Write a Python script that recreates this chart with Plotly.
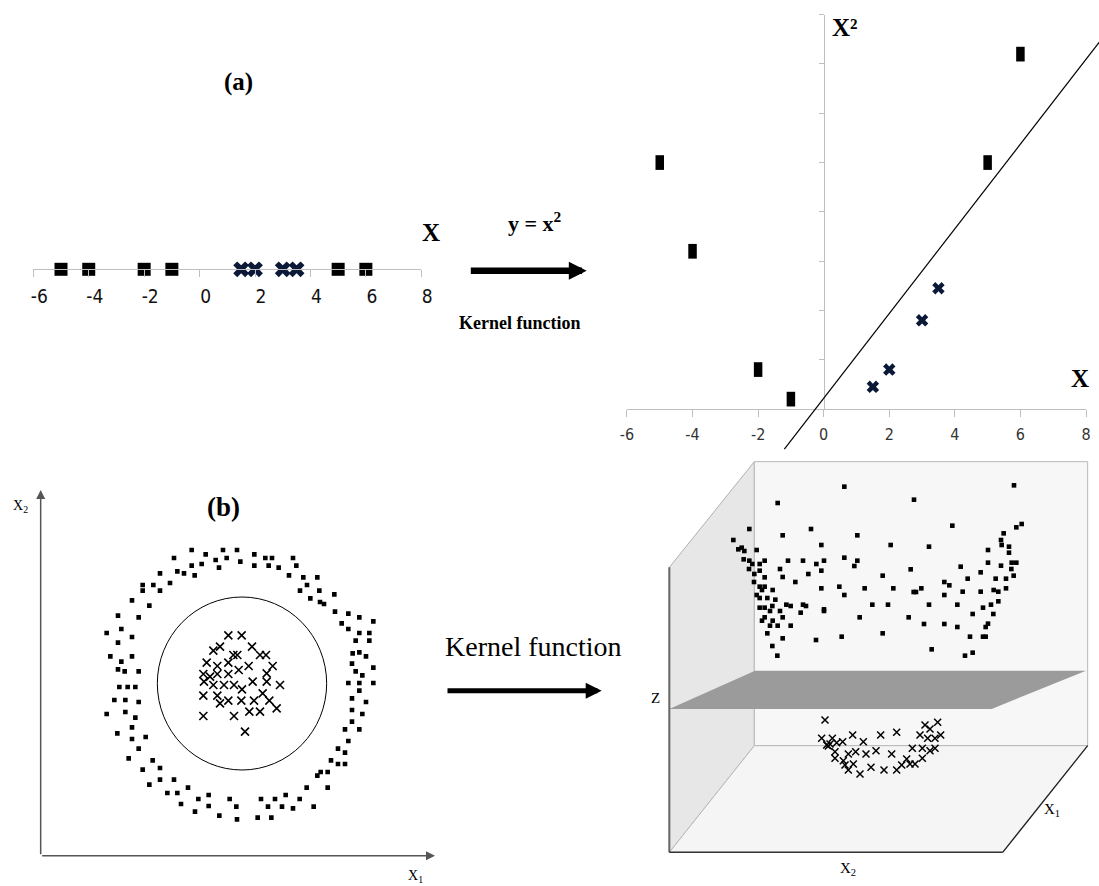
import plotly.graph_objects as go

W, H = 1099, 886
SERIF = "'Liberation Serif', 'Times New Roman', serif"
NARROW = "'Liberation Sans Narrow', 'Arial Narrow', 'DejaVu Sans Condensed', 'Liberation Sans', sans-serif"

# ---------------- data ----------------
# (a) one-dimensional input
a_square_x = [-5, -4, -2, -1, 5, 6]
a_cross_x = [1.5, 2, 3, 3.5]
a_ticks = [-6, -4, -2, 0, 2, 4, 6, 8]
a_ticktext = ["-6", "-4", "-2", "0", "2", "4", "6", "8"]

# (a) after mapping y = x^2
m_square_x = [-5, -4, -2, -1, 5, 6]
m_square_y = [25, 16, 4, 1, 25, 36]
m_cross_x = [1.5, 2, 3, 3.5]
m_cross_y = [2.25, 4, 9, 12.25]
m_xticks = [-6, -4, -2, 0, 2, 4, 6, 8]
m_xticktext = ["-6", "-4", "-2", "0", "2", "4", "6", "8"]
m_yticks = [5, 10, 15, 20, 25, 30, 35, 40]
sep_x = [-1.2, 8.45]
sep_y = [-4.06, 37.4]

# (b) two-dimensional input: outer ring (squares) and inner core (crosses)
ring_x = [-125, -83, -31, 11, 63, 96, 116, 179,
          -178, -125, -95, -53, -20, 21, -43, 63, 106, 136, 189,
          -220, -168, -148, -116, 167, 210, 252,
          -272, -240, -190, -272, -220, 221, 200, 231, 258, 260, 272, 303,
          -304, -252, 305, 345, 378, 420,
          -346, -284, 325, 345, 378, 408,
          -380, -336, -304, -346, 367, 408,
          -369, -336, -304, 358, 378, 398,
          -346, -326, -284, 356, 367, 387, 420,
          -342, -317, -294, 345, 378, 420, 378,
          -357, -324, -284, 356, 398,
          -380, -324, -294, 356, 387,
          -304, -348, -304, -263, 335, 378, 356,
          -284, -314, 345, 314, 335,
          -272, -242, -220, 293, 314, 335,
          -252, -220, -178, 252, 262, 283,
          -198, -168, -136, 220, 283,
          -157, -105, -74, -11, 83, 125, 157, 199,
          -115, -74, 9, 104, 146, 179, 241,
          -42, 11, 73, 114]
ring_y = [400, 387, 400, 400, 387, 376, 376, 376,
          376, 353, 358, 370, 376, 365, 347, 353, 353, 347, 353,
          330, 336, 330, 324, 324, 318, 318,
          295, 295, 301, 278, 278, 295, 278, 255, 278, 244, 238, 267,
          249, 233, 215, 209, 198, 186,
          203, 198, 180, 163, 151, 151,
          151, 163, 139, 122, 128, 128,
          81, 65, 81, 90, 93, 81,
          42, 36, 36, 59, 36, 24, 47,
          -11, -11, -11, 1, 1, 1, -22,
          -50, -50, -56, -45, -56,
          -92, -86, -103, -80, -92,
          -132, -150, -167, -161, -138, -138, -115,
          -196, -225, -173, -196, -208,
          -259, -231, -254, -231, -242, -242,
          -304, -289, -289, -277, -266, -266,
          -329, -329, -313, -313, -313,
          -362, -347, -335, -347, -347, -347, -335, -347,
          -385, -368, -370, -370, -370, -375, -370,
          -397, -408, -403, -403]
core_x = [-15, 25, -60, -40, 0, 12, 56, 80, 98, -80, -48, -15, 16, 46, 118,
          -90, -70, -48, -15, 100, -88, -60, -28, 2, 26, 58, 100, 140,
          -90, -48, -40, -15, 24, 62, 88, 108, 130, 48, 80, 2, -90, 35]
core_y = [144, 144, 98, 110, 85, 85, 110, 85, 85, 62, 52, 62, 40, 52, 52,
          28, 20, 28, 28, 30, 5, -5, -5, -5, -18, 5, 5, -5,
          -37, -37, -60, -52, -52, -52, -30, -52, -75, -85, -85, -98, -98, -145]
circle_box = [-228, 280, -260, 259]          # x0, x1, y0, y1
b_xrange = [-578, 605]
b_yrange = [-518, 580]

# (b) feature space (oblique projection coordinates)
d_sq_u = [613, 1122, 413, 822, 328, 513, 937, 1145, 1129,
          280, 428, 652, 1091, 1083, 1085,
          295, 305, 313, 350, 544, 752, 867, 1044, 1107, 1107,
          311, 328, 337, 359, 374, 444, 489, 529, 552, 613, 652, 643, 1044, 1083, 1115, 1129, 1114,
          327, 359, 420, 812, 962,
          343, 374, 428, 505, 544, 728, 1022, 1121,
          342, 466, 913, 983, 1067, 1098,
          359, 374, 366, 398, 544, 598, 674, 760, 821, 828, 844, 928, 968, 1022, 1061, 1075, 1098,
          350, 359, 382, 406, 613, 913,
          397, 359, 374, 439, 452, 489, 498, 552, 552, 697, 744, 867, 952, 1053, 1075,
          390, 420, 482, 1029,
          374, 428, 659, 806, 998, 1060,
          366, 398, 390, 413, 452, 852, 913, 952, 1044, 1037,
          382, 428, 528, 605, 728, 990, 1029, 1037,
          397, 412, 875, 975, 998]
d_sq_v = [1190, 1194, 1141, 1151, 1063, 1063, 1073, 1078, 1068,
          1030, 1044, 1044, 1050, 1030, 1015,
          1002, 1007, 997, 1000, 1015, 1015, 1010, 1000, 1010, 992,
          972, 968, 958, 958, 968, 968, 968, 958, 968, 977, 968, 952, 962, 953, 962, 962, 943,
          943, 938, 943, 942, 950,
          928, 918, 919, 928, 938, 923, 933, 923,
          904, 904, 904, 914, 914, 914,
          890, 890, 880, 880, 885, 890, 885, 885, 874, 874, 885, 894, 875, 875, 880, 875, 885,
          865, 856, 856, 851, 865, 865,
          832, 827, 827, 836, 832, 836, 832, 822, 817, 836, 836, 836, 836, 836, 846,
          817, 817, 812, 827,
          798, 798, 798, 798, 808, 808,
          788, 788, 773, 773, 773, 778, 778, 769, 779, 769,
          750, 735, 730, 740, 750, 740, 740, 740,
          712, 683, 702, 683, 692]
d_x_u = [555, 545, 577, 560, 570, 590, 608, 638, 670, 722, 770,
         585, 585, 625, 647, 678, 708, 755,
         610, 640, 625, 660, 693, 732, 770, 785, 800, 810, 825,
         817, 847, 847, 870, 885, 840, 863, 885, 902, 855, 870, 893, 565, 615]
d_x_v = [490, 435, 435, 415, 418, 422, 425, 445, 425, 445, 453,
         395, 375, 388, 395, 388, 398, 388,
         368, 358, 340, 328, 348, 340, 340, 355, 373, 358, 358,
         405, 405, 375, 398, 405, 445, 435, 435, 445, 475, 463, 483, 412, 355]
# box corners (front-left-bottom origin, depth offset) and separating plane
box_u0, box_u1, box_v0 = 88, 1088, 93
depth_du, depth_dv = 255, 320
back_top_v, left_top_v = 1265, 948
plane_front = [88, 1055, 523]    # u0, u1, v
plane_back = [345, 1338, 638]
d_xrange = [0, 1377]
d_yrange = [-8, 1300]


# ---------------- helpers (layout only) ----------------
def P(x, y):
    return x / W, 1 - y / H


def dom_x(a, b):
    return [a / W, b / W]


def dom_y(top, bottom):
    return [1 - bottom / H, 1 - top / H]


fig = go.Figure()

NAVY = "#0b1838"

# ---- panel (a) 1-D ----
fig.add_trace(go.Scatter(x=a_square_x, y=[0] * len(a_square_x), mode="markers",
                         marker=dict(symbol="square", size=13, color="black"),
                         cliponaxis=False, xaxis="x", yaxis="y", hoverinfo="skip"))
fig.add_trace(go.Scatter(x=a_cross_x, y=[0] * len(a_cross_x), mode="markers",
                         marker=dict(symbol="x", size=14, color=NAVY),
                         cliponaxis=False, xaxis="x", yaxis="y", hoverinfo="skip"))

# ---- panel (a) mapped ----
fig.add_trace(go.Scatter(x=m_square_x, y=m_square_y, mode="markers",
                         marker=dict(symbol="line-ns", size=10.5, color="black",
                                     line=dict(color="black", width=8.5)),
                         cliponaxis=False, xaxis="x2", yaxis="y2", hoverinfo="skip"))
fig.add_trace(go.Scatter(x=m_cross_x, y=m_cross_y, mode="markers",
                         marker=dict(symbol="x", size=11, color=NAVY),
                         cliponaxis=False, xaxis="x2", yaxis="y2", hoverinfo="skip"))
fig.add_trace(go.Scatter(x=sep_x, y=sep_y, mode="lines",
                         line=dict(color="black", width=1.2),
                         xaxis="x5", yaxis="y5", hoverinfo="skip"))

# ---- panel (b) input space ----
fig.add_trace(go.Scatter(x=ring_x, y=ring_y, mode="markers",
                         marker=dict(symbol="square", size=4.6, color="black"),
                         xaxis="x3", yaxis="y3", hoverinfo="skip"))
fig.add_trace(go.Scatter(x=core_x, y=core_y, mode="markers",
                         marker=dict(symbol="x-thin", size=8,
                                     line=dict(color="black", width=1.6)),
                         xaxis="x3", yaxis="y3", hoverinfo="skip"))

# ---- panel (b) feature space ----
fig.add_trace(go.Scatter(x=d_sq_u, y=d_sq_v, mode="markers",
                         marker=dict(symbol="square", size=4.6, color="black"),
                         xaxis="x4", yaxis="y4", hoverinfo="skip"))
fig.add_trace(go.Scatter(x=d_x_u, y=d_x_v, mode="markers",
                         marker=dict(symbol="x-thin", size=7,
                                     line=dict(color="black", width=1.5)),
                         xaxis="x4", yaxis="y4", hoverinfo="skip"))

# ---------------- axes ----------------
x2d = dom_x(626.96, 1086)
y2d = dom_y(14.7, 409)
xs = 14 / (x2d[1] - x2d[0])
ys = 40 / (y2d[1] - y2d[0])
x5_range = [-6 - x2d[0] * xs, 8 + (1 - x2d[1]) * xs]
y5_range = [0 - y2d[0] * ys, 40 + (1 - y2d[1]) * ys]

hidden = dict(visible=False, showgrid=False, zeroline=False, fixedrange=True, automargin=False)

fig.update_layout(
    template="none",
    width=W, height=H, margin=dict(l=0, r=0, t=0, b=0, pad=0, autoexpand=False),
    paper_bgcolor="white", plot_bgcolor="rgba(0,0,0,0)",
    showlegend=False,
    xaxis=dict(domain=dom_x(33.3, 421.3), range=[-6, 8], anchor="y", automargin=False,
               showline=True, linecolor="#bfbfbf", linewidth=1,
               ticks="outside", ticklen=7, tickcolor="#bfbfbf", tickwidth=1,
               tickvals=a_ticks, ticktext=a_ticktext,
               tickfont=dict(family=NARROW, size=19, color="#111"),
               ticklabelshift=6, ticklabelstandoff=3,
               showgrid=False, zeroline=False, fixedrange=True),
    yaxis=dict(domain=dom_y(200, 269.3), range=[0, 1], **hidden),
    xaxis2=dict(domain=x2d, range=[-6, 8], anchor="y2", automargin=False,
                showline=True, linecolor="#bfbfbf", linewidth=1,
                ticks="outside", ticklen=7, tickcolor="#bfbfbf", tickwidth=1,
                tickvals=m_xticks, ticktext=m_xticktext,
                tickfont=dict(family=NARROW, size=16, color="#333"),
                ticklabelstandoff=4,
                showgrid=False, zeroline=False, fixedrange=True),
    yaxis2=dict(domain=y2d, range=[0, 40], anchor="free", position=823.7 / W, automargin=False,
                showline=True, linecolor="#bfbfbf", linewidth=1,
                ticks="outside", ticklen=5, tickcolor="#bfbfbf", tickwidth=1,
                tickvals=m_yticks, showticklabels=False,
                showgrid=False, zeroline=False, fixedrange=True),
    xaxis5=dict(domain=[0, 1], range=x5_range, anchor="y5", **hidden),
    yaxis5=dict(domain=[0, 1], range=y5_range, anchor="x5", **hidden),
    xaxis3=dict(domain=dom_x(40.67, 435), range=b_xrange, anchor="y3", **hidden),
    yaxis3=dict(domain=dom_y(490, 856), range=b_yrange, anchor="x3", **hidden),
    xaxis4=dict(domain=dom_x(640, 1099), range=d_xrange, anchor="y4", **hidden),
    yaxis4=dict(domain=dom_y(450, 886), range=d_yrange, anchor="x4", **hidden),
)

# ---------------- shapes ----------------
u0, u1, v0 = box_u0, box_u1, box_v0
bu0, bu1, bv0 = u0 + depth_du, u1 + depth_du, v0 + depth_dv
shapes = []
# left wall
shapes.append(dict(type="path", xref="x4", yref="y4", layer="below",
                   path=f"M{u0},{v0} L{u0},{left_top_v} L{bu0},{back_top_v} L{bu0},{bv0} Z",
                   fillcolor="#e7e7e7", line=dict(color="#b0b0b0", width=1)))
# back wall
shapes.append(dict(type="rect", xref="x4", yref="y4", layer="below",
                   x0=bu0, x1=bu1, y0=bv0, y1=back_top_v,
                   fillcolor="#f7f7f7", line=dict(color="#b8b8b8", width=1)))
# floor
shapes.append(dict(type="path", xref="x4", yref="y4", layer="below",
                   path=f"M{u0},{v0} L{u1},{v0} L{bu1},{bv0} L{bu0},{bv0} Z",
                   fillcolor="#f5f5f5", line=dict(color="#b8b8b8", width=1)))
# separating plane
shapes.append(dict(type="path", xref="x4", yref="y4", layer="below",
                   path=(f"M{plane_front[0]},{plane_front[2]} L{plane_front[1]},{plane_front[2]} "
                         f"L{plane_back[1]},{plane_back[2]} L{plane_back[0]},{plane_back[2]} Z"),
                   fillcolor="#9b9b9b", line=dict(width=0)))
# front edges
shapes.append(dict(type="line", xref="x4", yref="y4", x0=u0, y0=v0, x1=u0, y1=left_top_v,
                   line=dict(color="#666666", width=2)))
shapes.append(dict(type="line", xref="x4", yref="y4", x0=u0, y0=v0, x1=u1, y1=v0,
                   line=dict(color="#333333", width=1.5)))
shapes.append(dict(type="line", xref="x4", yref="y4", x0=u1, y0=v0, x1=bu1, y1=bv0,
                   line=dict(color="#222222", width=1.3)))
# decision circle in input space
shapes.append(dict(type="circle", xref="x3", yref="y3",
                   x0=circle_box[0], x1=circle_box[1], y0=circle_box[2], y1=circle_box[3],
                   line=dict(color="black", width=1)))
fig.update_layout(shapes=shapes)

# ---------------- annotations ----------------
ann = []


def label(x, y, text, size, family=SERIF, color="black"):
    px_, py_ = P(x, y)
    ann.append(dict(x=px_, y=py_, xref="paper", yref="paper", text=text, showarrow=False,
                    xanchor="center", yanchor="middle",
                    font=dict(family=family, size=size, color=color)))


label(238.3, 81.7, "<b>(a)</b>", 25)
label(431, 233, "<b>X</b>", 25)
label(535, 222, "<b>y = x<sup>2</sup></b>", 22)
label(519.5, 323, "<b>Kernel function</b>", 18)
label(845, 28, "<b>X²</b>", 25)
label(1080, 378, "<b>X</b>", 25)
label(223.3, 506.7, "<b>(b)</b>", 27)
label(20, 506.7, "X<sub>2</sub>", 14)
label(415, 876, "X<sub>1</sub>", 14)
label(533.5, 646, "Kernel function", 28)
label(655, 698.3, "Z", 15)
label(1051.7, 810, "X<sub>1</sub>", 15)
label(848.3, 869, "X<sub>2</sub>", 15)

# big arrows between panels
hx, hy = P(586.7, 270.7)
ann.append(dict(x=hx, y=hy, xref="paper", yref="paper", text="", showarrow=True,
                ax=-117.4, ay=0, arrowhead=2, arrowwidth=6.5, arrowsize=0.55, arrowcolor="black"))
hx, hy = P(601.7, 690.7)
ann.append(dict(x=hx, y=hy, xref="paper", yref="paper", text="", showarrow=True,
                ax=-155.7, ay=0, arrowhead=2, arrowwidth=5, arrowsize=0.64, arrowcolor="black"))
# input-space axes with arrows
ann.append(dict(x=b_xrange[0], y=b_yrange[1], xref="x3", yref="y3",
                ax=b_xrange[0], ay=b_yrange[0] + 1, axref="x3", ayref="y3", text="",
                showarrow=True, arrowhead=2, arrowwidth=1.5, arrowsize=1.2, arrowcolor="#555555"))
ann.append(dict(x=b_xrange[1], y=b_yrange[0] + 1, xref="x3", yref="y3",
                ax=b_xrange[0], ay=b_yrange[0] + 1, axref="x3", ayref="y3", text="",
                showarrow=True, arrowhead=2, arrowwidth=1.5, arrowsize=1.2, arrowcolor="#555555"))
fig.update_layout(annotations=ann)

fig.write_html("out.html", config={"displayModeBar": False, "staticPlot": True},
               post_script="document.body.style.margin='0';document.body.style.overflow='hidden';")
